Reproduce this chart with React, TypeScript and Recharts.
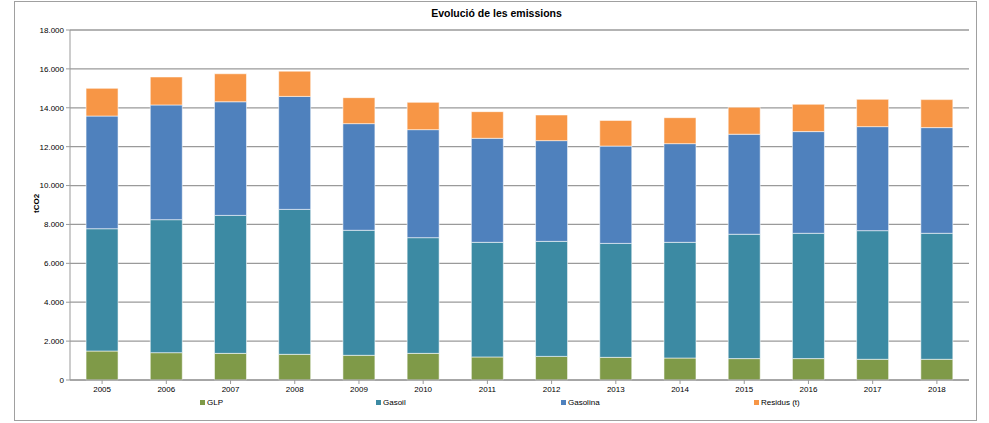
import React from "react";
import { BarChart, Bar, XAxis, YAxis, CartesianGrid } from "recharts";

const years = ["2005", "2006", "2007", "2008", "2009", "2010", "2011", "2012", "2013", "2014", "2015", "2016", "2017", "2018"];
const glp = [1490, 1405, 1370, 1320, 1270, 1370, 1185, 1215, 1165, 1130, 1100, 1100, 1065, 1065];
const gasoil = [6290, 6840, 7095, 7455, 6430, 5950, 5895, 5915, 5860, 5950, 6395, 6445, 6615, 6480];
const gasolina = [5795, 5900, 5845, 5810, 5485, 5555, 5350, 5180, 5005, 5075, 5145, 5230, 5350, 5435];
const residus = [1425, 1440, 1440, 1300, 1335, 1405, 1370, 1320, 1320, 1335, 1390, 1405, 1405, 1440];
const yTicks = [0, 2000, 4000, 6000, 8000, 10000, 12000, 14000, 16000, 18000];

const series = [
  { key: "glp", name: "GLP", color: "#7F9A48" },
  { key: "gasoil", name: "Gasoil", color: "#3C8AA3" },
  { key: "gasolina", name: "Gasolina", color: "#4F81BD" },
  { key: "residus", name: "Residus (t)", color: "#F79646" },
];

const data = years.map((y, i) => ({
  year: y,
  glp: glp[i],
  gasoil: gasoil[i],
  gasolina: gasolina[i],
  residus: residus[i],
}));

const fmt = (v: number) => (v === 0 ? "0" : v.toLocaleString("de-DE"));
const font = "'Liberation Sans', Arial, sans-serif";
const legendX = [200, 376, 561, 754];

export default function App() {
  return (
    <div style={{ position: "absolute", left: 0, top: 0, width: 989, height: 423, background: "#fff", fontFamily: font }}>
      <div style={{ position: "absolute", left: 14, top: 1, width: 963, height: 420, border: "1px solid #a0a0a0", boxSizing: "border-box" }} />
      <div style={{ position: "absolute", left: 0, top: 7, width: 993, textAlign: "center", fontSize: 10.5, fontWeight: "bold", color: "#000" }}>
        Evolució de les emissions
      </div>
      <div style={{ position: "absolute", left: 0, top: 0 }}>
        <BarChart width={989} height={423} data={data} margin={{ top: 30, right: 20, bottom: 13, left: 0 }} barCategoryGap="25%">
          <CartesianGrid vertical={false} stroke="#9a9a9a" strokeWidth={1.3} />
          <XAxis
            dataKey="year"
            stroke="#9a9a9a"
            tickLine={{ stroke: "#9a9a9a" }}
            tick={{ fill: "#000", fontSize: 8, fontFamily: font }}
            tickSize={4}
            interval={0}
            height={30}
          />
          <YAxis
            width={70}
            domain={[0, 18000]}
            ticks={yTicks}
            tickFormatter={fmt}
            stroke="#9a9a9a"
            tickLine={{ stroke: "#9a9a9a" }}
            tickSize={4}
            tick={{ fill: "#000", fontSize: 8, fontFamily: font }}
            label={{ value: "tCO2", angle: -90, position: "insideLeft", offset: 36, dy: 8, style: { fontSize: 8, fontWeight: "bold", fill: "#000", fontFamily: font } }}
          />
          {series.map((s) => (
            <Bar key={s.key} dataKey={s.key} name={s.name} stackId="a" fill={s.color} stroke="rgba(255,255,255,0.55)" strokeWidth={1} isAnimationActive={false} />
          ))}
        </BarChart>
      </div>
      {series.map((s, i) => (
        <div key={s.key} style={{ position: "absolute", left: legendX[i], top: 398, display: "flex", alignItems: "center", fontSize: 8, color: "#000" }}>
          <span style={{ display: "inline-block", width: 5, height: 5, background: s.color, marginRight: 2 }} />
          {s.name}
        </div>
      ))}
    </div>
  );
}
